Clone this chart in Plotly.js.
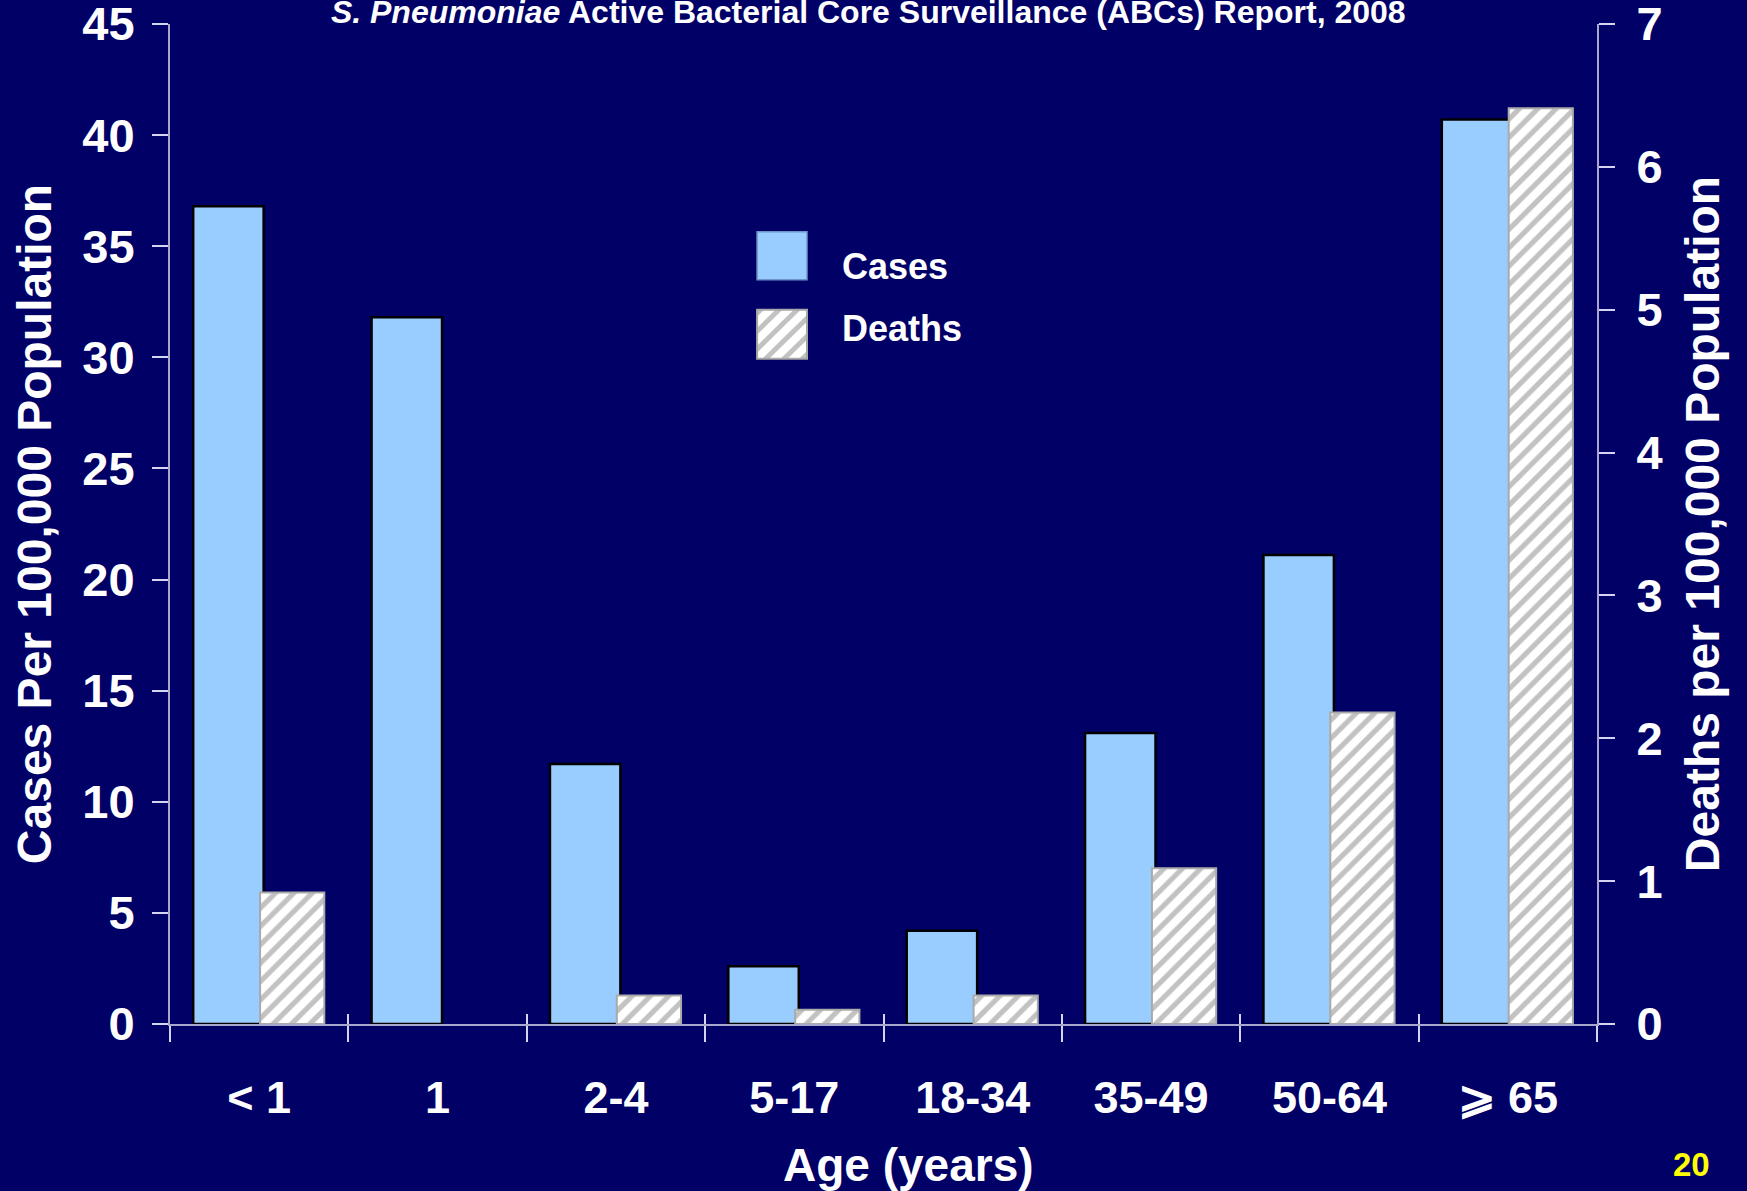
<!DOCTYPE html>
<html>
<head>
<meta charset="utf-8">
<script src="https://cdn.plot.ly/plotly-3.0.1.min.js"></script>
<style>
  html, body { margin: 0; padding: 0; background: #000066; }
  #chart { width: 1747px; height: 1191px; }
</style>
</head>
<body>
<div id="chart"></div>
<script>
// Age groups (x categories)
const ageGroups = ["< 1", "1", "2-4", "5-17", "18-34", "35-49", "50-64", "\u2A7E 65"];
// Invasive pneumococcal disease rates per 100,000 population
const casesPer100k = [36.8, 31.8, 11.7, 2.6, 4.2, 13.1, 21.1, 40.7];
const deathsPer100k = [0.92, null, 0.2, 0.1, 0.2, 1.09, 2.18, 6.41];
// Axis ticks
const casesTicks = [0, 5, 10, 15, 20, 25, 30, 35, 40, 45];
const deathsTicks = [0, 1, 2, 3, 4, 5, 6, 7];

const BG = "#000066";
const FONT = "Liberation Sans, Arial, Helvetica, sans-serif";
const AXIS_LINE = "#a8a8cc";
const TICK = "#d4d4f0";

const casesTrace = {
  type: "bar",
  name: "Cases",
  x: ageGroups,
  y: casesPer100k,
  xaxis: "x",
  yaxis: "y",
  offset: -0.37,
  width: 0.395,
  marker: { color: "#99ccff", line: { color: "#000000", width: 2.5 } },
  showlegend: false,
  hoverinfo: "x+y"
};

const deathsTrace = {
  type: "bar",
  name: "Deaths",
  x: ageGroups,
  y: deathsPer100k,
  xaxis: "x2",
  yaxis: "y2",
  offset: 0.005,
  width: 0.36,
  marker: {
    color: "#ffffff",
    line: { color: "#aaaaaa", width: 2 },
    pattern: { shape: "/", fgcolor: "#c2c2c2", bgcolor: "#ffffff", size: 13, solidity: 0.4 }
  },
  showlegend: false,
  hoverinfo: "x+y"
};

// Hatched swatch for the Deaths key
const hatchSvg =
  "<svg xmlns='http://www.w3.org/2000/svg' width='50' height='50'>" +
  "<defs><pattern id='h' width='13' height='13' patternUnits='userSpaceOnUse' patternTransform='rotate(-45)'>" +
  "<rect width='13' height='13' fill='#ffffff'/>" +
  "<rect width='13' height='5' fill='#c2c2c2'/></pattern></defs>" +
  "<rect width='50' height='50' fill='url(#h)'/></svg>";
const hatchSrc = "data:image/svg+xml;charset=utf-8," + encodeURIComponent(hatchSvg);

const baseX = {
  type: "category",
  categoryarray: ageGroups,
  categoryorder: "array",
  range: [-0.5, ageGroups.length - 0.5],
  tickson: "boundaries",
  showgrid: false,
  zeroline: false,
  fixedrange: true
};

const tickFontY = { family: FONT, size: 47, color: "#ffffff", weight: "bold" };
const titleFontY = { family: FONT, size: 48, color: "#ffffff", weight: "bold" };

const layout = {
  width: 1747,
  height: 1191,
  paper_bgcolor: BG,
  plot_bgcolor: BG,
  margin: { l: 170, r: 150, t: 24, b: 167 },
  font: { family: FONT, color: "#ffffff" },
  title: {
    text: "<i>S. Pneumoniae</i> Active Bacterial Core Surveillance (ABCs) Report, 2008",
    font: { family: FONT, size: 32, color: "#ffffff", weight: "bold" },
    x: 0.497,
    xanchor: "center",
    xref: "container",
    y: 1,
    yanchor: "top",
    yref: "container",
    pad: { t: 1, b: 0 }
  },
  xaxis: Object.assign({}, baseX, {
    anchor: "y",
    ticks: "outside",
    ticklen: 16,
    tickwidth: 2,
    tickcolor: TICK,
    showline: true,
    linecolor: AXIS_LINE,
    linewidth: 2,
    ticklabelstandoff: 33,
    tickfont: { family: FONT, size: 45, color: "#ffffff", weight: "bold" }
  }),
  xaxis2: Object.assign({}, baseX, {
    anchor: "y2",
    overlaying: "x",
    side: "bottom",
    ticks: "inside",
    ticklen: 10,
    tickwidth: 2,
    tickcolor: TICK,
    showline: false,
    showticklabels: false
  }),
  yaxis: {
    anchor: "x",
    side: "left",
    range: [0, 45],
    tickvals: casesTicks,
    ticks: "outside",
    ticklen: 16,
    tickwidth: 2,
    tickcolor: TICK,
    showline: true,
    linecolor: AXIS_LINE,
    linewidth: 2,
    showgrid: false,
    zeroline: false,
    ticklabelstandoff: 8,
    ticklabeloverflow: "allow",
    tickfont: tickFontY,
    title: { text: "Cases Per 100,000 Population", font: titleFontY, standoff: 16 },
    fixedrange: true
  },
  yaxis2: {
    anchor: "x2",
    overlaying: "y",
    side: "right",
    range: [0, 7],
    tickvals: deathsTicks,
    ticks: "outside",
    ticklen: 16,
    tickwidth: 2,
    tickcolor: TICK,
    showline: true,
    linecolor: AXIS_LINE,
    linewidth: 2,
    showgrid: false,
    zeroline: false,
    ticklabelstandoff: 12,
    ticklabeloverflow: "allow",
    tickfont: tickFontY,
    title: { text: "Deaths per 100,000 Population", font: titleFontY, standoff: 24 },
    fixedrange: true
  },
  yaxis3: {
    anchor: "x",
    overlaying: "y",
    side: "left",
    range: [0, 45],
    tickvals: casesTicks,
    ticks: "inside",
    ticklen: 15,
    tickwidth: 2,
    tickcolor: TICK,
    showticklabels: false,
    showline: false,
    showgrid: false,
    zeroline: false,
    fixedrange: true
  },
  yaxis4: {
    anchor: "x",
    overlaying: "y",
    side: "right",
    range: [0, 7],
    tickvals: deathsTicks,
    ticks: "inside",
    ticklen: 15,
    tickwidth: 2,
    tickcolor: TICK,
    showticklabels: false,
    showline: false,
    showgrid: false,
    zeroline: false,
    fixedrange: true
  },
  shapes: [
    // key swatches
    { type: "rect", xref: "paper", yref: "paper", x0: 0.4114, x1: 0.4464, y0: 0.7443, y1: 0.7922,
      fillcolor: "#99ccff", line: { color: "#6f93c8", width: 1.5 }, layer: "above" },
    { type: "rect", xref: "paper", yref: "paper", x0: 0.4114, x1: 0.4464, y0: 0.6653, y1: 0.7143,
      fillcolor: "rgba(0,0,0,0)", line: { color: "#a8a8a8", width: 2 }, layer: "above" }
  ],
  images: [
    { source: hatchSrc, xref: "paper", yref: "paper", x: 0.4114, y: 0.7143,
      sizex: 0.035, sizey: 0.049, sizing: "stretch", xanchor: "left", yanchor: "top", layer: "above" }
  ],
  annotations: [
    { text: "Cases", xref: "paper", yref: "paper", x: 0.4693, y: 0.758, xanchor: "left", yanchor: "middle",
      showarrow: false, font: { family: FONT, size: 36, color: "#ffffff", weight: "bold" } },
    { text: "Deaths", xref: "paper", yref: "paper", x: 0.4693, y: 0.696, xanchor: "left", yanchor: "middle",
      showarrow: false, font: { family: FONT, size: 36, color: "#ffffff", weight: "bold" } },
    { text: "Age (years)", xref: "paper", yref: "paper", x: 0.5175, y: -0.113, xanchor: "center", yanchor: "top",
      showarrow: false, font: { family: FONT, size: 46, color: "#ffffff", weight: "bold" } },
    { text: "20", xref: "paper", yref: "paper", x: 1.066, y: -0.14, xanchor: "center", yanchor: "middle",
      showarrow: false, font: { family: FONT, size: 33, color: "#ffff00", weight: "bold" } }
  ],
  bargap: 0,
  barmode: "overlay",
  showlegend: false
};

Plotly.newPlot("chart", [casesTrace, deathsTrace], layout, { displayModeBar: false, staticPlot: true });
</script>
</body>
</html>
